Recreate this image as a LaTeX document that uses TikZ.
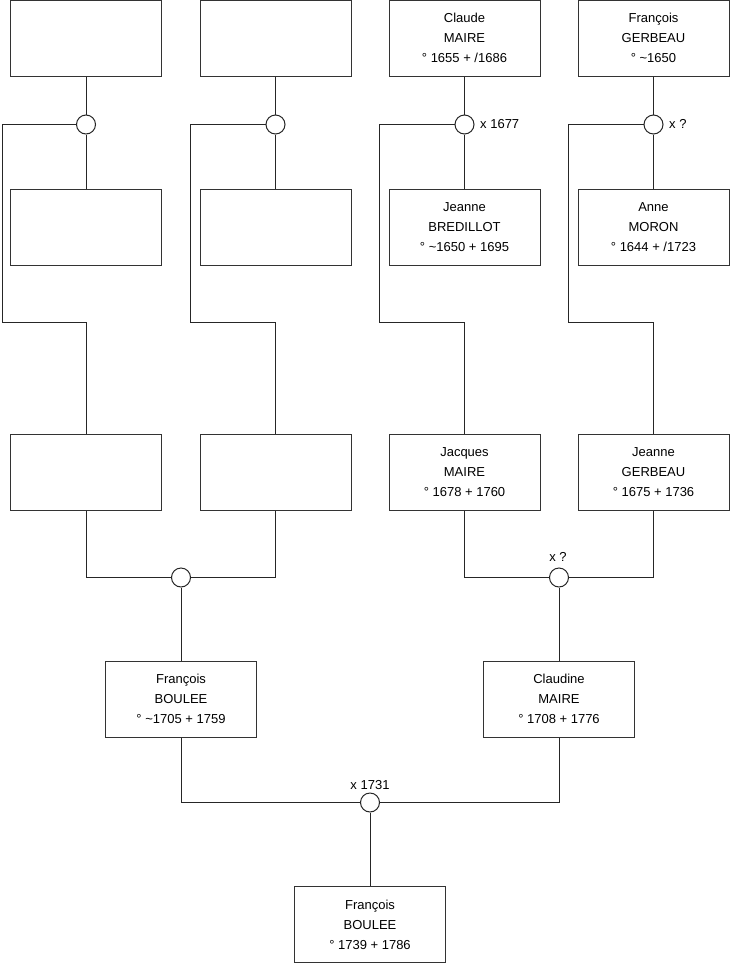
\documentclass[tikz,border=0pt]{standalone}
\usepackage{fontspec}
\setmainfont{Liberation Sans}
\begin{document}
\begin{tikzpicture}[x=1pt,y=-1pt,
  person/.style={draw=black!80,line width=1pt,fill=white,minimum width=151pt,minimum height=76pt,inner sep=0pt,align=center,font=\fontsize{13}{20}\selectfont},
  union/.style={draw=black!85,line width=1pt,fill=white,circle,minimum size=19pt,inner sep=0pt},
  conn/.style={draw=black!85,line width=1pt},
  lbl/.style={font=\fontsize{13}{15}\selectfont,inner sep=0pt}]
\useasboundingbox (0,0) rectangle (740,975);
\coordinate (k1) at (2.5,322.5);
\coordinate (k2) at (190.5,322.5);
\coordinate (k3) at (379.5,322.5);
\coordinate (k4) at (568.5,322.5);
% row 1
\node[person] (a1) at (86,38) {};
\node[person] (a2) at (275.5,38) {};
\node[person] (a3) at (464.5,38) {Claude\\MAIRE\\° 1655 + /1686};
\node[person] (a4) at (653.5,38) {François\\GERBEAU\\° \textasciitilde1650};
% row 2
\node[person] (b1) at (86,227) {};
\node[person] (b2) at (275.5,227) {};
\node[person] (b3) at (464.5,227) {Jeanne\\BREDILLOT\\° \textasciitilde1650 + 1695};
\node[person] (b4) at (653.5,227) {Anne\\MORON\\° 1644 + /1723};
% row 3
\node[person] (c1) at (86,472.5) {};
\node[person] (c2) at (275.5,472.5) {};
\node[person] (c3) at (464.5,472.5) {Jacques\\MAIRE\\° 1678 + 1760};
\node[person] (c4) at (653.5,472.5) {Jeanne\\GERBEAU\\° 1675 + 1736};
% row 4
\node[person] (d1) at (181,699) {François\\BOULEE\\° \textasciitilde1705 + 1759};
\node[person] (d2) at (559,699) {Claudine\\MAIRE\\° 1708 + 1776};
% row 5
\node[person] (e) at (370,924.5) {François\\BOULEE\\° 1739 + 1786};
% unions
\node[union] (m1) at (86,124.5) {};
\node[union] (m2) at (275.5,124.5) {};
\node[union] (m3) at (464.5,124.5) {};
\node[union] (m4) at (653.5,124.5) {};
\node[union] (m5) at (181,577.5) {};
\node[union] (m6) at (559,577.5) {};
\node[union] (m7) at (370,802.5) {};
% labels
\node[lbl,anchor=west] (l3) at (480,124) {x 1677};
\node[lbl,anchor=west] (l4) at (669,124) {x ?};
\node[lbl] (l6) at (558,557) {x ?};
\node[lbl] (l7) at (370,785) {x 1731};
% connectors
\foreach \i in {1,2,3,4}{
  \draw[conn] (a\i.south) -- (m\i.north);
  \draw[conn] (m\i.south) -- (b\i.north);
  \draw[conn] (m\i.west) -| (k\i) -| (c\i.north);
}
\draw[conn] (c1.south) |- (m5.west);
\draw[conn] (c2.south) |- (m5.east);
\draw[conn] (m5.south) -- (d1.north);
\draw[conn] (c3.south) |- (m6.west);
\draw[conn] (c4.south) |- (m6.east);
\draw[conn] (m6.south) -- (d2.north);
\draw[conn] (d1.south) |- (m7.west);
\draw[conn] (d2.south) |- (m7.east);
\draw[conn] (m7.south) -- (e.north);
\end{tikzpicture}
\end{document}
